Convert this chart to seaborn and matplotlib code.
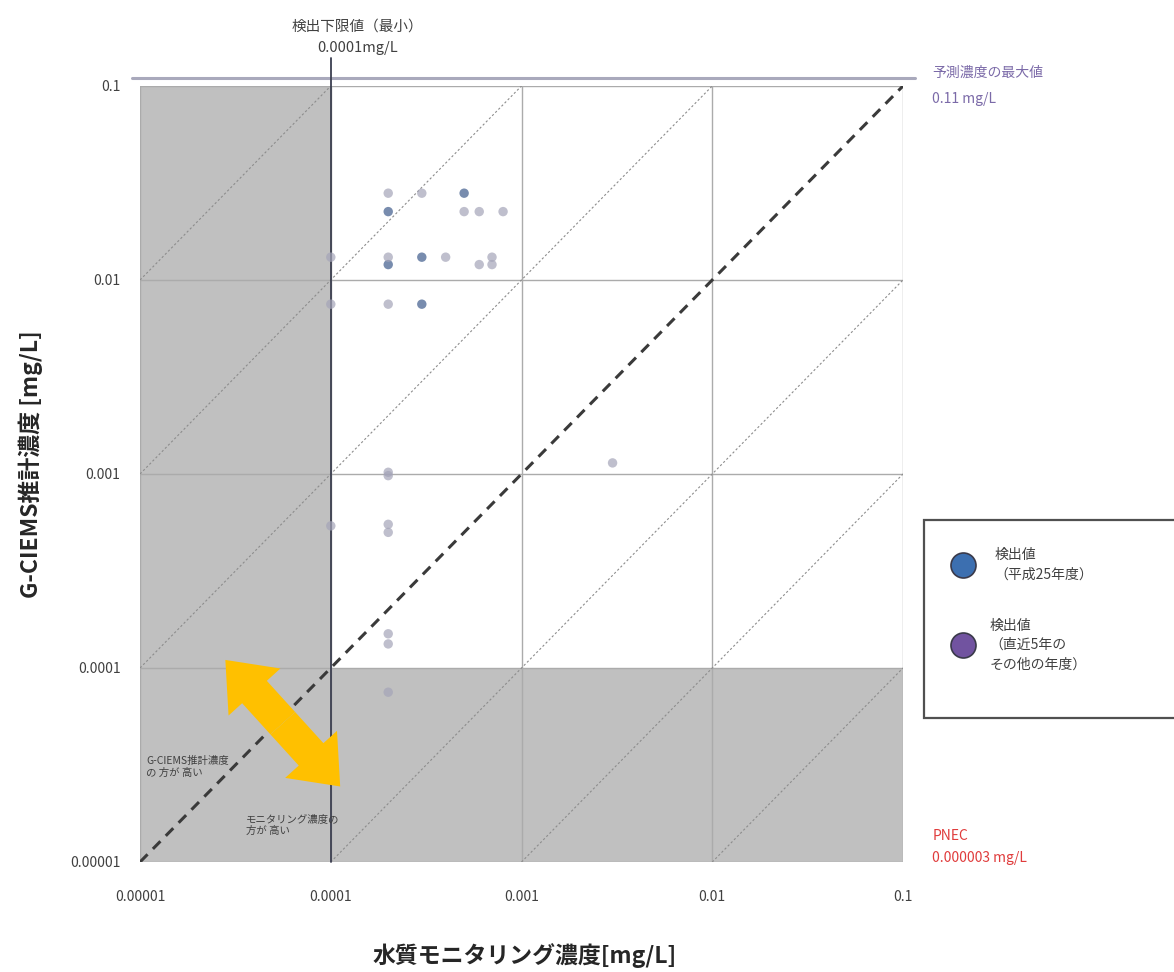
import matplotlib
matplotlib.use("Agg")
import matplotlib.pyplot as plt
import matplotlib.transforms as mtransforms
from matplotlib.patches import FancyArrowPatch, Rectangle
from matplotlib.lines import Line2D
import numpy as np
import pandas as pd
import seaborn as sns

# --- data -------------------------------------------------------------
# detections in fiscal year H25 (monitoring conc., G-CIEMS estimate) [mg/L]
h25_monitor = [0.0005, 0.0002, 0.0002, 0.0003, 0.0003]
h25_gciems = [0.028, 0.0225, 0.012, 0.0131, 0.0075]

# detections in the other years of the last five years
other_monitor = [0.0002, 0.0003, 0.0005, 0.0006, 0.0008, 0.0001, 0.0002,
                 0.0004, 0.0006, 0.0007, 0.0007, 0.0001, 0.0002, 0.003,
                 0.0002, 0.0002, 0.0001, 0.0002, 0.0002, 0.0002, 0.0002,
                 0.0002]
other_gciems = [0.028, 0.028, 0.0225, 0.0225, 0.0225, 0.0131, 0.0131,
                0.0131, 0.012, 0.0131, 0.012, 0.0075, 0.0075, 0.00114,
                0.00102, 0.00098, 0.00054, 0.00055, 0.0005, 0.00015,
                0.000133, 0.000075]

series_names = ["検出値（平成25年度）", "検出値（直近5年のその他の年度）"]
decade_ticks = [0.00001, 0.0001, 0.001, 0.01, 0.1]
tick_labels = ["0.00001", "0.0001", "0.001", "0.01", "0.1"]

detection_limit = 0.0001      # mg/L
predicted_max = 0.11          # mg/L
pnec = 0.000003               # mg/L (below the plotted range)

df = pd.DataFrame({
    "monitor": h25_monitor + other_monitor,
    "gciems": h25_gciems + other_gciems,
    "series": [series_names[0]] * len(h25_monitor)
              + [series_names[1]] * len(other_monitor),
})

# --- style ------------------------------------------------------------
sns.set_style("white")
plt.rcParams["font.family"] = ["Noto Sans CJK JP", "DejaVu Sans"]

fig = plt.figure(figsize=(11.74, 9.72), dpi=100)
ax = fig.add_axes([0.1193, 0.1132, 0.6499, 0.7984])
ax.set_xscale("log")
ax.set_yscale("log")
lo, hi = decade_ticks[0], decade_ticks[-1]
ax.set_xlim(lo, hi)
ax.set_ylim(lo, hi)

# shaded zones below the detection limit / below 1e-4 estimate
shade = "#c0c0c0"
ax.axvspan(lo, detection_limit, color=shade, lw=0, zorder=0.5)
ax.axhspan(lo, 0.0001, color=shade, lw=0, zorder=0.5)

# decade grid
ax.set_xticks(decade_ticks)
ax.set_yticks(decade_ticks)
ax.set_xticklabels(tick_labels)
ax.set_yticklabels(tick_labels)
ax.minorticks_off()
ax.set_axisbelow("line")
ax.grid(True, color="#ababab", lw=1.0)
for s in ax.spines.values():
    s.set_visible(False)
ax.tick_params(axis="both", length=0, labelsize=10, labelcolor="#404040")
ax.tick_params(axis="x", pad=20)
ax.tick_params(axis="y", pad=14)

# ratio lines y = x * 10^k
xs = np.array([lo, hi])
for k in [-3, -2, -1, 1, 2, 3]:
    ax.plot(xs, xs * 10.0 ** k, color="#8c8c8c", lw=0.8,
            ls=(0, (2, 2)), zorder=2)
ax.plot(xs, xs, color="#3a3a3a", lw=2.2, ls=(0, (3.5, 2.5)), zorder=2.2)

# detection-limit line
ax.plot([detection_limit, detection_limit], [lo, 0.14], color="#3c3f50",
        lw=1.3, clip_on=False, zorder=2.5)
ax.text(detection_limit * 1.38, 0.178, "検出下限値（最小）\n0.0001mg/L",
        ha="center", va="center", fontsize=10.5, color="#404040",
        linespacing=1.6)

# maximum predicted concentration line
trans = mtransforms.blended_transform_factory(ax.transAxes, ax.transData)
ax.plot([-0.01, 1.016], [predicted_max, predicted_max], transform=trans,
        color="#a9a9bc", lw=2.2, clip_on=False, zorder=2)

# points
sns.scatterplot(data=df, x="monitor", y="gciems", hue="series",
                palette={series_names[0]: "#3f5c8c",
                         series_names[1]: "#a4a4b8"},
                s=46, alpha=0.7, edgecolor="none", legend=False,
                ax=ax, zorder=3)
ax.set_xlabel("")
ax.set_ylabel("")

# double-headed arrow between the two "higher" regions
end_a = (2.8e-5, 1.1e-4)
end_b = (1.12e-4, 2.45e-5)
mid = (np.sqrt(end_a[0] * end_b[0]), np.sqrt(end_a[1] * end_b[1]))
for end in [end_a, end_b]:
    ax.add_patch(FancyArrowPatch(
        mid, end, arrowstyle="simple,head_length=1.3,head_width=2.1,"
        "tail_width=1.0", mutation_scale=24, color="#ffc000",
        lw=0, zorder=4, shrinkA=0, shrinkB=0))
ax.text(1.08e-5, 3.1e-5, "G-CIEMS推計濃度\nの 方が 高い", fontsize=7.5,
        color="#404040", ha="left", va="center", linespacing=1.2)
ax.text(3.6e-5, 1.55e-5, "モニタリング濃度の\n方が 高い", fontsize=7.5,
        color="#404040", ha="left", va="center", linespacing=1.2)

# axis titles
fig.text(0.026, 0.522, "G-CIEMS推計濃度 [mg/L]", rotation=90,
         fontsize=16.5, fontweight="bold", color="#262626",
         ha="center", va="center")
fig.text(0.447, 0.017, "水質モニタリング濃度[mg/L]", fontsize=16.5,
         fontweight="bold", color="#262626", ha="center", va="center")

# side notes
fig.text(0.794, 0.925, "予測濃度の最大値", fontsize=10, color="#7b6aa8",
         ha="left", va="center")
fig.text(0.794, 0.898, "0.11 mg/L", fontsize=10, color="#7b6aa8",
         ha="left", va="center")
fig.text(0.794, 0.140, "PNEC", fontsize=10, color="#e03c3c",
         ha="left", va="center")
fig.text(0.794, 0.117, "0.000003 mg/L", fontsize=10, color="#e03c3c",
         ha="left", va="center")

# legend box
fig.add_artist(Rectangle((0.787, 0.2613), 0.25, 0.2037,
                         transform=fig.transFigure, facecolor="white",
                         edgecolor="#505050", lw=1.6, zorder=5))
for yy, col in [(0.4187, "#3c6fb0"), (0.3364, "#7153a0")]:
    fig.add_artist(Line2D([0.8203], [yy], marker="o", markersize=18,
                          markerfacecolor=col, markeredgecolor="#3a3a4a",
                          markeredgewidth=1.2, transform=fig.transFigure,
                          zorder=6))
fig.text(0.847, 0.4187, "検出値\n（平成25年度）", fontsize=10,
         color="#404040", ha="left", va="center", linespacing=1.5,
         zorder=6)
fig.text(0.843, 0.3364, "検出値\n（直近5年の\nその他の年度）", fontsize=10,
         color="#404040", ha="left", va="center", linespacing=1.5,
         zorder=6)

fig.savefig("out.png", dpi=100)
